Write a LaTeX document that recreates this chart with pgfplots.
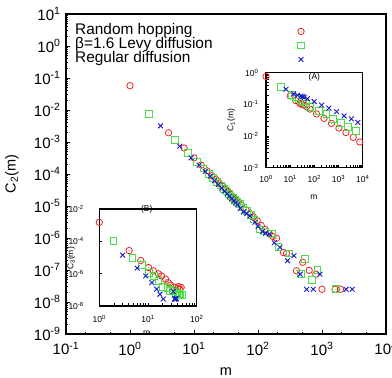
\documentclass[border=0pt]{standalone}
\usepackage{fontspec}
\setmainfont{Liberation Sans}
\usepackage{pgfplots}
\pgfplotsset{compat=1.18}

\definecolor{hopred}{RGB}{235,35,35}
\definecolor{levygreen}{RGB}{70,225,70}
\definecolor{diffblue}{RGB}{25,25,205}

% circle and square marks with a small dot in the middle
\pgfdeclareplotmark{dotcircle}{%
  \pgfpathcircle{\pgfpointorigin}{\pgfplotmarksize}\pgfusepathqstroke
  \pgfpathcircle{\pgfpointorigin}{0.4pt}\pgfusepathqfill}
\pgfdeclareplotmark{dotsquare}{%
  \pgfpathrectangle{\pgfpoint{-\pgfplotmarksize}{-\pgfplotmarksize}}%
    {\pgfpoint{2\pgfplotmarksize}{2\pgfplotmarksize}}\pgfusepathqstroke
  \pgfpathcircle{\pgfpointorigin}{0.4pt}\pgfusepathqfill}

\newcommand{\tp}[1]{10\textsuperscript{#1}}

\pgfplotsset{
  hop/.style={only marks, color=hopred, mark=dotcircle, mark size=3.2pt,
    mark options={line width=0.8pt}},
  levy/.style={only marks, color=levygreen, mark=dotsquare, mark size=3.4pt,
    mark options={line width=0.8pt}},
  regd/.style={only marks, color=diffblue, mark=x, mark size=3.4pt,
    mark options={line width=0.9pt}},
  smallpanel/.style={scale only axis, clip=false,
    axis background/.style={fill=white},
    axis line style={line width=1.2pt},
    tick style={black, line width=0.6pt}, major tick length=3pt,
    tick align=inside, xtick pos=bottom, ytick pos=left,
    minor xtick={}, minor ytick={},
    ticklabel style={font=\fontsize{8.5}{10}\selectfont},
    label style={font=\fontsize{8.5}{10}\selectfont},
    title style={font=\fontsize{8.5}{10}\selectfont}},
}

\begin{document}
\begin{tikzpicture}
\useasboundingbox (0pt,0pt) rectangle (392pt,-378pt);

% ---- main panel: C2(m) ----
\begin{axis}[
  at={(66pt,-334pt)}, anchor=south west,
  scale only axis, width=320pt, height=320pt,
  xmode=log, ymode=log,
  xmin=0.1, xmax=1e4, ymin=1e-9, ymax=10,
  axis line style={line width=1.6pt},
  tick style={black, line width=0.7pt},
  major tick length=4.5pt, minor tick length=2.5pt,
  tick align=inside, xtick pos=bottom, ytick pos=left,
  xtick={0.1,1,10,100,1000,10000},
  xticklabels={\tp{-1},\tp{0},\tp{1},\tp{2},\tp{3},\tp{4}},
  minor xtick={0.2,0.5,2,5,20,50,200,500,2000,5000},
  ytick={1e-9,1e-8,1e-7,1e-6,1e-5,1e-4,1e-3,1e-2,1e-1,1,10},
  yticklabels={\tp{-9},\tp{-8},\tp{-7},\tp{-6},\tp{-5},\tp{-4},\tp{-3},\tp{-2},\tp{-1},\tp{0},\tp{1}},
  minor ytick={},
  ticklabel style={font=\fontsize{15}{17}\selectfont},
  xticklabel style={yshift=-5pt},
  yticklabel style={xshift=-2pt},
  xlabel={m}, ylabel={C\textsubscript{2}(m)},
  label style={font=\fontsize{14.5}{17}\selectfont},
  xlabel style={at={(axis description cs:0.5,-0.118)}, anchor=center},
  ylabel style={at={(axis description cs:-0.169,0.5)}, anchor=center},
  legend plot pos=right, legend cell align=left,
  legend style={draw=none, fill=none, at={(rel axis cs:0,1)}, anchor=north west,
    xshift=8pt, yshift=-9pt, font=\fontsize{15.4}{17}\selectfont,
    row sep=-2.5pt, column sep=84pt, inner sep=0pt,
    nodes={inner sep=1pt, text height=10.5pt, text depth=4pt}},
]
\addplot[hop] table {
1 0.0575
4 1.95e-3
7 6.5e-4
10 3.2e-4
13 1.9e-4
16 1.26e-4
19 8.9e-5
22 6.8e-5
25 5.1e-5
28 4.2e-5
31 3.4e-5
34 2.8e-5
37 2.3e-5
40 2.0e-5
43 1.74e-5
46 1.51e-5
49 1.35e-5
55 1.07e-5
65 7.6e-6
75 5.8e-6
85 4.5e-6
97 3.5e-6
112 2.5e-6
129 1.86e-6
150 1.4e-6
170 1.12e-6
195 9.8e-7
250 3.5e-7
280 3.3e-7
400 9.5e-8
500 1.74e-7
630 9.8e-8
800 7.4e-8
1000 2.5e-8
1600 2.5e-8
1950 2.5e-8
};
\addlegendentry{Random hopping}
\addplot[levy] table {
2 7.5e-3
5 1.17e-3
8 4.5e-4
11 2.37e-4
14 1.5e-4
17 1.0e-4
20 7.4e-5
23 5.6e-5
26 4.4e-5
29 3.5e-5
32 2.9e-5
35 2.4e-5
38 2.0e-5
41 1.8e-5
44 1.55e-5
47 1.38e-5
52 1.15e-5
58 9.1e-6
67 7.1e-6
77 5.4e-6
87 3.8e-6
107 1.86e-6
130 1.6e-6
163 1.32e-6
208 5.4e-7
310 3.3e-7
465 7.4e-8
540 2.2e-7
690 4.9e-8
850 1.0e-7
1650 2.5e-8
};
\addlegendentry{β=1.6 Levy diffusion}
\addplot[regd] table {
3 3.2e-3
6 7.4e-4
9 3.2e-4
12 1.9e-4
15 1.2e-4
18 8.5e-5
21 6.2e-5
24 4.7e-5
27 3.6e-5
30 2.95e-5
33 2.4e-5
36 2.0e-5
39 1.7e-5
42 1.45e-5
45 1.26e-5
48 1.1e-5
53 8.5e-6
59 6.6e-6
67 5.8e-6
75 4.9e-6
90 3.1e-6
100 2.3e-6
117 1.58e-6
132 1.4e-6
150 1.32e-6
180 7.1e-7
220 5.1e-7
290 1.95e-7
365 2.8e-7
456 7.4e-8
575 2.5e-8
730 2.5e-8
930 7.4e-8
2380 2.5e-8
2960 2.5e-8
};
\addlegendentry{Regular diffusion}
\end{axis}

% ---- inset (A): C1(m) ----
\begin{axis}[smallpanel,
  xmode=log, ymode=log,
  at={(266pt,-167.7pt)}, anchor=south west, width=96.7pt, height=95pt,
  xmin=1, xmax=1e4, ymin=1e-3, ymax=1,
  xtick={1,10,100,1000,10000},
  xticklabels={\tp{0},\tp{1},\tp{2},\tp{3},\tp{4}},
  ytick={1e-3,1e-2,1e-1,1},
  yticklabels={\tp{-3},\tp{-2},\tp{-1},\tp{0}},
  xticklabel style={yshift=-4pt},
  yticklabel style={xshift=-4pt},
  xlabel={m}, ylabel={C\textsubscript{1}(m)},
  xlabel style={at={(axis description cs:0.496,-0.31)}, anchor=center},
  ylabel style={at={(axis description cs:-0.36,0.5)}, anchor=center},
  title={(A)}, title style={at={(axis description cs:0.5,0.885)}, anchor=center},
]
\addplot[hop] table {
1 0.76
10 0.184
17 0.132
25 0.107
30 0.100
37 0.095
48 0.085
66 0.071
123 0.050
250 0.036
510 0.025
1040 0.0178
2030 0.0129
4050 0.0091
7600 0.0065
};
\addplot[levy] table {
4.2 0.35
11.5 0.20
17 0.166
23 0.145
33 0.132
45 0.107
66 0.085
155 0.063
315 0.049
600 0.035
1230 0.026
2500 0.020
5200 0.0145
};
\addplot[regd] table {
6.7 0.30
14 0.214
20 0.195
28 0.184
33 0.175
38 0.166
52 0.151
98 0.123
200 0.095
400 0.076
830 0.059
1700 0.043
3400 0.035
6300 0.027
};
\end{axis}

% ---- inset (B): C3(m) ----
\begin{axis}[smallpanel,
  xmode=log, ymode=log,
  at={(99.3pt,-306pt)}, anchor=south west, width=97.4pt, height=97pt,
  xmin=1, xmax=100, ymin=1e-8, ymax=1e-2,
  xtick={1,10,100},
  xticklabels={\tp{0},\tp{1},\tp{2}},
  ytick={1e-8,1e-6,1e-4,1e-2},
  yticklabels={\tp{-8},\tp{-6},\tp{-4},\tp{-2}},
  xticklabel style={yshift=-6pt},
  yticklabel style={xshift=-12pt},
  xlabel={m}, ylabel={C\textsubscript{3}(m)},
  xlabel style={at={(axis description cs:0.487,-0.28)}, anchor=center},
  ylabel style={at={(axis description cs:-0.29,0.49)}, anchor=center},
  title={(B)}, title style={at={(axis description cs:0.487,0.935)}, anchor=center},
]
\addplot[hop] table {
1 1.5e-3
4.1 2.7e-5
7.1 6.5e-6
10.2 2.4e-6
12.9 1.5e-6
16.3 9.8e-7
19 7.2e-7
23 4.6e-7
26 2.8e-7
29 2.0e-7
34.6 1.5e-7
40 1.26e-7
42 1.6e-7
45 1.1e-7
48 1.4e-7
};
\addplot[levy] table {
1.94 1.05e-4
4.8 9.1e-6
7.4 3.5e-6
10.6 1.17e-6
13.3 7.2e-7
16.3 3.6e-7
20.6 1.5e-7
25 1.26e-7
28 9.1e-8
33 1.0e-7
37.5 6.3e-8
40 5.0e-8
43 5.4e-8
45 4.5e-8
49 5.0e-8
};
\addplot[regd] table {
3 1.4e-5
6 2.2e-6
9 7.2e-7
12 2.8e-7
15 1.1e-7
17.6 5.4e-8
20.6 2.7e-8
33 7.9e-8
35 2.7e-8
36 2.7e-8
37 2.7e-8
38 3.0e-8
};
\end{axis}
\end{tikzpicture}
\end{document}
